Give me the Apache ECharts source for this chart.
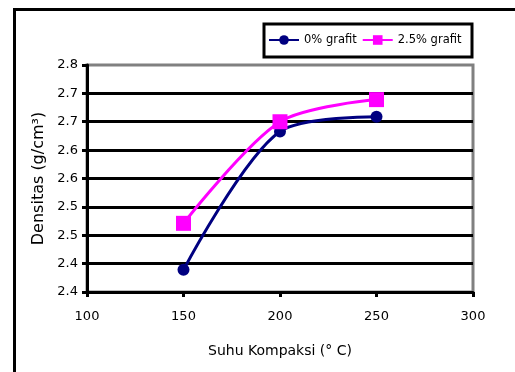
<!DOCTYPE html>
<html>
<head>
<meta charset="utf-8">
<script src="https://cdn.jsdelivr.net/npm/echarts@6/dist/echarts.min.js"></script>
<style>
html,body{margin:0;padding:0;background:#fff;}
#chart{width:515px;height:372px;}
</style>
</head>
<body>
<div id="chart"></div>
<script>
var xValues = [150, 200, 250];
var series0 = [2.439, 2.683, 2.709];
var series25 = [2.521, 2.700, 2.739];
var seriesNames = ['0% grafit', '2.5% grafit'];
var yTickLabels = ['2.4', '2.4', '2.5', '2.5', '2.6', '2.6', '2.7', '2.7', '2.8'];
var xTickLabels = ['100', '150', '200', '250', '300'];
var xTitle = 'Suhu Kompaksi (\u00B0 C)';
var yTitle = 'Densitas (g/cm\u00B3)';

var FONT = 'DejaVu Sans';
var chart = echarts.init(document.getElementById('chart'), null, {renderer: 'canvas'});
function pairs(xs, ys) { return xs.map(function (x, i) { return [x, ys[i]]; }); }

chart.setOption({
  animation: false,
  backgroundColor: '#fff',
  grid: {left: 87, right: 42, top: 65, bottom: 80, show: true, borderColor: '#808080', borderWidth: 3, backgroundColor: 'transparent'},
  legend: {
    left: 268, top: 34, padding: 0, itemWidth: 30, itemHeight: 12, itemGap: 5,
    textStyle: {fontFamily: FONT, fontSize: 11.5, color: '#000'},
    data: seriesNames
  },
  xAxis: {
    type: 'value', min: 100, max: 300, interval: 50,
    name: xTitle, nameLocation: 'middle', nameGap: 52,
    nameTextStyle: {fontFamily: FONT, fontSize: 14, color: '#000'},
    axisLine: {show: true, lineStyle: {color: '#000', width: 3}},
    axisTick: {show: true, length: 5, lineStyle: {color: '#000', width: 3}},
    axisLabel: {margin: 18, fontFamily: FONT, fontSize: 13, color: '#000',
      formatter: function (v) { return xTickLabels[Math.round((v - 100) / 50)]; }},
    splitLine: {show: false}
  },
  yAxis: {
    type: 'value', min: 2.4, max: 2.8, interval: 0.05,
    name: yTitle, nameLocation: 'middle', nameGap: 33, nameRotate: 90,
    nameTextStyle: {fontFamily: FONT, fontSize: 16, color: '#000'},
    axisLine: {show: true, onZero: false, lineStyle: {color: '#000', width: 3}},
    axisTick: {show: true, length: 5, lineStyle: {color: '#000', width: 3}},
    axisLabel: {margin: 9, fontFamily: FONT, fontSize: 13, color: '#000',
      formatter: function (v) { return yTickLabels[Math.round((v - 2.4) / 0.05)]; }},
    splitLine: {show: true, showMinLine: false, showMaxLine: false, lineStyle: {color: '#000', width: 3}}
  },
  graphic: [
    {type: 'rect', left: 13, top: 8, shape: {x: 0, y: 0, width: 620, height: 420},
      style: {fill: 'transparent', stroke: '#000', lineWidth: 3}, silent: true, z: 100},
    {type: 'rect', shape: {x: 264, y: 24, width: 208, height: 33},
      style: {fill: 'transparent', stroke: '#000', lineWidth: 3}, silent: true, z: 100}
  ],
  series: [
    {name: seriesNames[0], type: 'line', smooth: 0.3, data: pairs(xValues, series0),
      symbol: 'circle', symbolSize: 12, color: '#000080',
      lineStyle: {color: '#000080', width: 3}, itemStyle: {color: '#000080'}, z: 3},
    {name: seriesNames[1], type: 'line', smooth: 0.3, data: pairs(xValues, series25),
      symbol: 'rect', symbolSize: 15, color: '#FF00FF',
      lineStyle: {color: '#FF00FF', width: 3}, itemStyle: {color: '#FF00FF'}, z: 4}
  ]
});
</script>
</body>
</html>
